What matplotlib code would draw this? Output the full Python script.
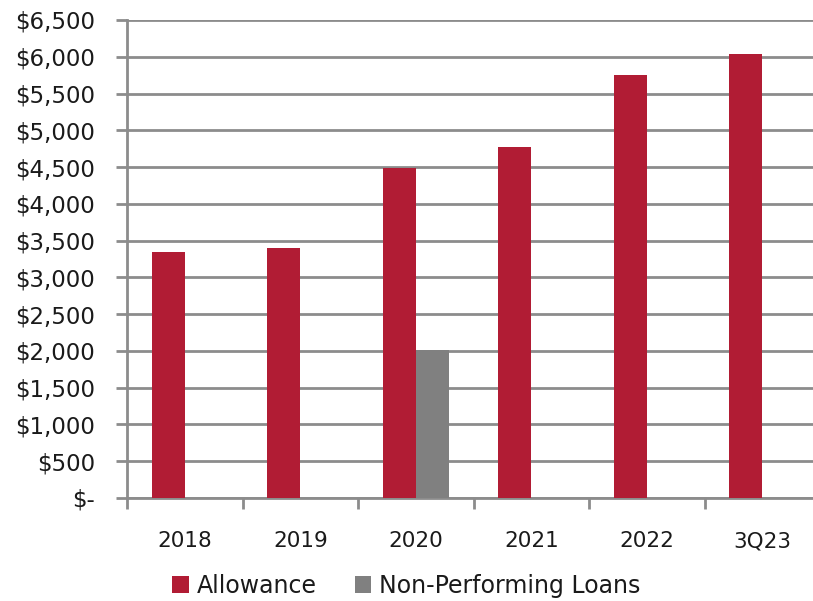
import matplotlib
matplotlib.use("Agg")
import matplotlib.pyplot as plt
import numpy as np

categories = ["2018", "2019", "2020", "2021", "2022", "3Q23"]
allowance = [3350, 3405, 4490, 4775, 5755, 6035]
non_performing = [0, 0, 2010, 0, 0, 0]
y_ticks = list(range(0, 6501, 500))

red = "#B11C34"
grey = "#808080"
line_grey = "#8C8C8C"
text_col = "#1a1a1a"

plt.rcParams["font.family"] = ["DejaVu Sans"]

fig = plt.figure(figsize=(8.13, 6.01), dpi=100)
ax = fig.add_axes([127 / 813, 103 / 601, (820 - 127) / 813, (498 - 20) / 601])

x = np.arange(len(categories))
w = 0.286
ax.bar(x - w / 2, allowance, width=w, color=red, label="Allowance", zorder=3)
ax.bar(x + w / 2, non_performing, width=w, color=grey, label="Non-Performing Loans", zorder=3)

ax.set_xlim(-0.5, len(categories) - 0.5)
ax.set_ylim(0, 6500)
ax.set_yticks(y_ticks)
ax.set_yticklabels(["$-" if v == 0 else f"${v:,}" for v in y_ticks],
                   fontsize=16.5, color=text_col)
ax.set_xticks(x)
ax.set_xticklabels(categories, fontsize=15.5, color=text_col)
ax.set_xticks(np.arange(-0.5, len(categories), 1.0), minor=True)

ax.grid(axis="y", color=line_grey, linewidth=2, zorder=0)
for side in ["top", "right"]:
    ax.spines[side].set_visible(False)
for side in ["left", "bottom"]:
    ax.spines[side].set_color(line_grey)
    ax.spines[side].set_linewidth(2)

ax.tick_params(axis="y", length=8, width=2, color=line_grey, pad=15)
ax.tick_params(axis="x", which="major", length=0, pad=24)
ax.tick_params(axis="x", which="minor", length=8, width=2, color=line_grey)

leg = fig.legend(loc="center", bbox_to_anchor=(0.5, (601 - 586) / 601), ncol=2, frameon=False,
                 prop={"size": 17}, handlelength=0.7, handleheight=0.7,
                 handletextpad=0.35, columnspacing=1.6)
for t in leg.get_texts():
    t.set_color(text_col)

fig.savefig("out.png", dpi=100)
